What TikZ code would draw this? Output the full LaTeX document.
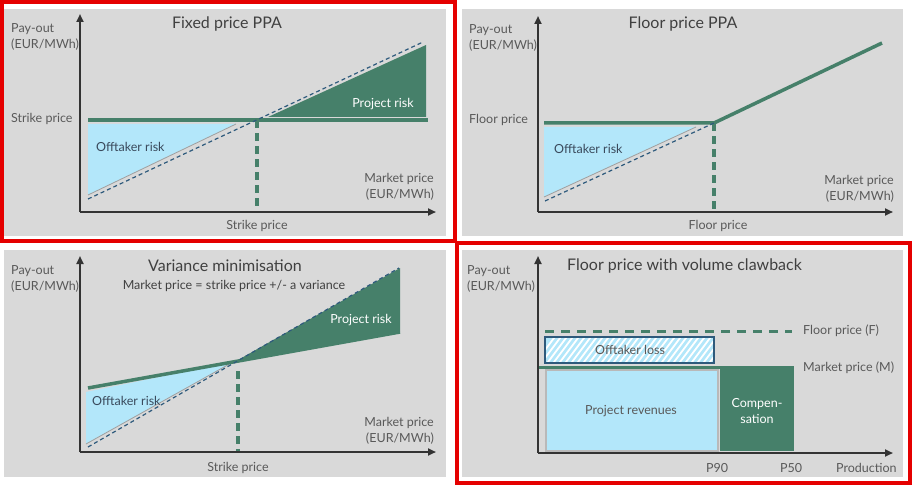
\documentclass[tikz,border=0pt]{standalone}
\usepackage{fontspec}
\setmainfont{Lato}
\usetikzlibrary{arrows.meta}
\definecolor{bg}{HTML}{D9D9D9}
\definecolor{grn}{HTML}{46806A}
\definecolor{lblue}{HTML}{B3E7FA}
\definecolor{navy}{HTML}{2E5A7C}
\definecolor{txt}{HTML}{595959}
\definecolor{ttl}{HTML}{404040}
\definecolor{dtxt}{HTML}{3A4A5C}
\definecolor{redf}{HTML}{E50000}
\definecolor{axc}{HTML}{333333}
\tikzset{
  panel/.style={fill=bg, draw=none},
  redframe/.style={draw=redf, line width=4pt},
  axis/.style={draw=axc, line width=2.4pt, -{Triangle[length=8pt,width=7pt]}},
  lbl/.style={text=txt, font=\fontsize{12.5}{16}\selectfont, inner sep=0pt},
  dlbl/.style={text=dtxt, font=\fontsize{12.5}{16}\selectfont, inner sep=0pt},
  wlbl/.style={text=white, font=\fontsize{12.5}{16}\selectfont, inner sep=0pt},
  ttlstyle/.style={text=ttl, font=\fontsize{16}{18}\selectfont, inner sep=0pt},
  subttl/.style={text=ttl, font=\fontsize{12.5}{14}\selectfont, inner sep=0pt},
  gline/.style={draw=grn, line width=3.5pt},
  gdash/.style={draw=grn, line width=3.5pt, dash pattern=on 8pt off 5pt},
  gdashlong/.style={draw=grn, line width=3pt, dash pattern=on 9pt off 7pt},
  ndash/.style={draw=navy, line width=1.2pt, dash pattern=on 4pt off 3pt},
  bluefill/.style={fill=lblue, draw=none},
  greenfill/.style={fill=grn, draw=none},
  edge/.style={draw=gray!75, line width=0.8pt},
}
\begin{document}
\begin{tikzpicture}[x=1pt,y=-1pt]
\useasboundingbox (0,0) rectangle (914,487);
\fill[white] (0,0) rectangle (914,487);

% ===== Panel 1: Fixed price PPA =====
\fill[panel] (4,9) rectangle (446,236);
\fill[bluefill] (88,124) -- (236,124) -- (88,195) -- cycle;
\draw[edge] (236,124) -- (88,195);
\fill[greenfill] (268,117) -- (426,45) -- (426,117) -- cycle;
\coordinate (a1s) at (88,120); \coordinate (a1e) at (428,120);
\draw[gline] (a1s) -- (a1e);
\coordinate (a1v) at (257,120); \coordinate (a1b) at (257,212);
\draw[gdash] (a1v) -- (a1b);
\coordinate (a1n) at (88,199); \coordinate (a1m) at (423,42);
\draw[ndash] (a1n) -- (a1m);
\coordinate (o1) at (80,212); \coordinate (y1) at (80,14); \coordinate (x1) at (436,212);
\draw[axis] (o1) -- (y1);
\draw[axis] (o1) -- (x1);
\node[ttlstyle] (t1) at (227,24) {Fixed price PPA};
\node[lbl, align=left, anchor=west] (p1) at (11,37) {Pay-out\\(EUR/MWh)};
\node[lbl, anchor=west] (s1) at (11,119) {Strike price};
\node[dlbl, anchor=west] (o1l) at (96,147) {Offtaker risk};
\node[wlbl] (pr1) at (383,104) {Project risk};
\node[lbl, align=right, anchor=east] (m1) at (434,187) {Market price\\(EUR/MWh)};
\node[lbl] (sb1) at (257,226) {Strike price};

% ===== Panel 2: Floor price PPA =====
\fill[panel] (462,9) rectangle (903,236);
\fill[bluefill] (544,127) -- (696,127) -- (544,197) -- cycle;
\draw[edge] (696,127) -- (544,197);
\coordinate (a2s) at (544,123); \coordinate (a2k) at (714,123); \coordinate (a2e) at (882,43);
\draw[gline, line join=round] (a2s) -- (a2k) -- (a2e);
\coordinate (a2b) at (714,212);
\draw[gdash] (a2k) -- (a2b);
\coordinate (a2n) at (545,201);
\draw[ndash] (a2n) -- (a2k);
\coordinate (o2) at (538,212); \coordinate (y2) at (538,16); \coordinate (x2) at (893,212);
\draw[axis] (o2) -- (y2);
\draw[axis] (o2) -- (x2);
\node[ttlstyle] (t2) at (683,24) {Floor price PPA};
\node[lbl, align=left, anchor=west] (p2) at (469,38) {Pay-out\\(EUR/MWh)};
\node[lbl, anchor=west] (f2) at (469,120) {Floor price};
\node[dlbl, anchor=west] (o2l) at (554,149) {Offtaker risk};
\node[lbl, align=right, anchor=east] (m2) at (894,189) {Market price\\(EUR/MWh)};
\node[lbl] (fb2) at (718,226) {Floor price};

% ===== Panel 3: Variance minimisation =====
\fill[panel] (4,250) rectangle (446,477);
\fill[bluefill] (86,392) -- (233,362) -- (86,444) -- cycle;
\draw[edge] (233,362) -- (86,444);
\fill[greenfill] (238,360) -- (400,268) -- (400,332) -- cycle;
\coordinate (a3s) at (88,388); \coordinate (a3e) at (400,332);
\draw[gline] (a3s) -- (a3e);
\coordinate (a3v) at (238,371); \coordinate (a3b) at (238,452);
\draw[gdash] (a3v) -- (a3b);
\coordinate (a3n) at (88,447); \coordinate (a3m) at (399,268);
\draw[ndash] (a3n) -- (a3m);
\coordinate (o3) at (80,452); \coordinate (y3) at (80,256); \coordinate (x3) at (436,452);
\draw[axis] (o3) -- (y3);
\draw[axis] (o3) -- (x3);
\node[ttlstyle] (t3) at (225,266) {Variance minimisation};
\node[subttl] (st3) at (234,286) {Market price = strike price +/- a variance};
\node[lbl, align=left, anchor=west] (p3) at (11,279) {Pay-out\\(EUR/MWh)};
\node[dlbl, anchor=west] (o3l) at (92,401) {Offtaker risk};
\node[wlbl] (pr3) at (361,320) {Project risk};
\node[lbl, align=right, anchor=east] (m3) at (434,431) {Market price\\(EUR/MWh)};
\node[lbl] (sb3) at (238,468) {Strike price};

% ===== Panel 4: Floor price with volume clawback =====
\fill[panel] (462,250) rectangle (903,477);
\fill[lblue, draw=gray!55, line width=1.5pt] (546,370) rectangle (718,451);
\fill[greenfill] (720,366) rectangle (794,451);
\coordinate (a4s) at (538,367); \coordinate (a4e) at (794,367);
\draw[draw=grn, line width=3pt] (a4s) -- (a4e);
\coordinate (a4f) at (545,331); \coordinate (a4g) at (792,331);
\draw[gdashlong] (a4f) -- (a4g);
\begin{scope}
  \clip (545,337) rectangle (714,363);
  \fill[lblue] (545,337) rectangle (714,363);
  \foreach \i in {0,6,...,210} {
    \draw[white, line width=1.8pt] (530+\i,370) -- (560+\i,330);
  }
\end{scope}
\draw[draw=navy, line width=1.3pt] (545,337) rectangle (714,363);
\coordinate (o4) at (538,453); \coordinate (y4) at (538,256); \coordinate (x4) at (893,453);
\draw[axis] (o4) -- (y4);
\draw[axis] (o4) -- (x4);
\node[ttlstyle, anchor=west] (t4) at (567,266) {Floor price with volume clawback};
\node[lbl, align=left, anchor=west] (p4) at (467,279) {Pay-out\\(EUR/MWh)};
\node[lbl, anchor=west] (fl4) at (803,331) {Floor price (F)};
\node[lbl, anchor=west] (mk4) at (803,368) {Market price (M)};
\node[lbl] (ol4) at (630,350) {Offtaker loss};
\node[lbl] (pr4) at (631,411) {Project revenues};
\node[wlbl, align=center] (cp4) at (757,411) {Compen-\\sation};
\node[lbl] (p90) at (717,468) {P90};
\node[lbl] (p50) at (791,468) {P50};
\node[lbl, anchor=west] (prod) at (836,468) {Production};

% ===== Red frames =====
\draw[redframe] (2,2) rectangle (455,241);
\draw[redframe] (457,243) rectangle (910,483);
\end{tikzpicture}
\end{document}
